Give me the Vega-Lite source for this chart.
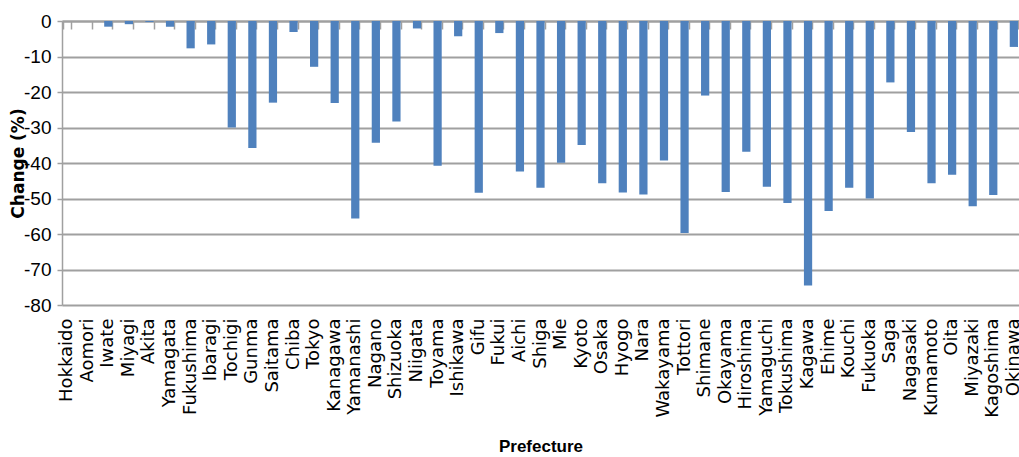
{
  "$schema": "https://vega.github.io/schema/vega-lite/v6.json",
  "width": 957,
  "height": 284,
  "autosize": {"type": "none"},
  "padding": {"left": 62, "top": 21, "right": 0, "bottom": 152},
  "background": "white",
  "config": {"view": {"stroke": null}},
  "data": {"values": [
    {"Prefecture": "Hokkaido", "Change": 0},
    {"Prefecture": "Aomori", "Change": 0},
    {"Prefecture": "Iwate", "Change": -1.6},
    {"Prefecture": "Miyagi", "Change": -0.9},
    {"Prefecture": "Akita", "Change": -0.3},
    {"Prefecture": "Yamagata", "Change": -1.6},
    {"Prefecture": "Fukushima", "Change": -7.7},
    {"Prefecture": "Ibaragi", "Change": -6.6},
    {"Prefecture": "Tochigi", "Change": -30.0},
    {"Prefecture": "Gunma", "Change": -35.8},
    {"Prefecture": "Saitama", "Change": -23.0},
    {"Prefecture": "Chiba", "Change": -3.1},
    {"Prefecture": "Tokyo", "Change": -12.9},
    {"Prefecture": "Kanagawa", "Change": -23.1},
    {"Prefecture": "Yamanashi", "Change": -55.6},
    {"Prefecture": "Nagano", "Change": -34.3},
    {"Prefecture": "Shizuoka", "Change": -28.3},
    {"Prefecture": "Niigata", "Change": -2.1},
    {"Prefecture": "Toyama", "Change": -40.8},
    {"Prefecture": "Ishikawa", "Change": -4.3},
    {"Prefecture": "Gifu", "Change": -48.4},
    {"Prefecture": "Fukui", "Change": -3.4},
    {"Prefecture": "Aichi", "Change": -42.4},
    {"Prefecture": "Shiga", "Change": -47.0},
    {"Prefecture": "Mie", "Change": -39.9},
    {"Prefecture": "Kyoto", "Change": -34.9},
    {"Prefecture": "Osaka", "Change": -45.7},
    {"Prefecture": "Hyogo", "Change": -48.3},
    {"Prefecture": "Nara", "Change": -48.9},
    {"Prefecture": "Wakayama", "Change": -39.3},
    {"Prefecture": "Tottori", "Change": -59.7},
    {"Prefecture": "Shimane", "Change": -21.0},
    {"Prefecture": "Okayama", "Change": -48.2},
    {"Prefecture": "Hiroshima", "Change": -36.8},
    {"Prefecture": "Yamaguchi", "Change": -46.7},
    {"Prefecture": "Tokushima", "Change": -51.3},
    {"Prefecture": "Kagawa", "Change": -74.5},
    {"Prefecture": "Ehime", "Change": -53.5},
    {"Prefecture": "Kouchi", "Change": -47.0},
    {"Prefecture": "Fukuoka", "Change": -50.0},
    {"Prefecture": "Saga", "Change": -17.3},
    {"Prefecture": "Nagasaki", "Change": -31.3},
    {"Prefecture": "Kumamoto", "Change": -45.7},
    {"Prefecture": "Oita", "Change": -43.3},
    {"Prefecture": "Miyazaki", "Change": -52.2},
    {"Prefecture": "Kagoshima", "Change": -49.0},
    {"Prefecture": "Okinawa", "Change": -7.3}
  ]},
  "encoding": {
    "y": {
      "field": "Change", "type": "quantitative",
      "scale": {"domain": [-80, 0], "nice": false, "zero": false},
      "axis": {
        "values": [-80, -70, -60, -50, -40, -30, -20, -10, 0],
        "labelExpr": "'' + datum.value",
        "labelOverlap": false,
        "grid": true, "gridColor": "#a0a0a0", "gridWidth": 2,
        "domain": true, "domainColor": "#a0a0a0", "domainWidth": 1.5,
        "ticks": true, "tickColor": "#a0a0a0", "tickSize": 5, "tickWidth": 1.5,
        "labelFont": "Liberation Sans Narrow, Liberation Sans, sans-serif", "labelFontSize": 19,
        "labelColor": "#000000", "labelPadding": 6,
        "title": "Change (%)", "titleFont": "DejaVu Sans", "titleFontSize": 17,
        "titleFontWeight": "bold", "titleColor": "#000000",
        "titleX": -44, "titleY": 142, "titleBaseline": "middle", "titleAngle": -90
      }
    }
  },
  "layer": [
    {
      "mark": {"type": "bar", "color": "#4F81BD"},
      "encoding": {
        "x": {
          "field": "Prefecture", "type": "nominal", "sort": null,
          "scale": {"paddingInner": 0.6, "paddingOuter": 0.05},
          "axis": {
            "orient": "bottom", "labelAngle": -90, "labelAlign": "right", "labelBaseline": "middle",
            "labelFont": "DejaVu Sans", "labelFontSize": 18, "labelColor": "#000000",
            "labelPadding": 13, "labelOverlap": false, "domain": false, "ticks": false, "grid": false,
            "title": "Prefecture", "titleFont": "Liberation Sans Narrow, Liberation Sans, sans-serif",
            "titleFontSize": 17, "titleFontWeight": "bold", "titleColor": "#000000",
            "titleY": 146, "titleBaseline": "alphabetic"
          }
        }
      }
    },
    {
      "mark": {"type": "bar", "opacity": 0},
      "encoding": {
        "x": {
          "field": "Prefecture", "type": "nominal", "sort": null,
          "axis": {
            "orient": "top", "labels": false, "title": null, "grid": false,
            "domain": true, "domainColor": "#a0a0a0", "domainWidth": 2,
            "ticks": true, "tickBand": "extent", "tickSize": -8, "tickColor": "#a0a0a0", "tickWidth": 1.5
          }
        }
      }
    }
  ],
  "resolve": {"axis": {"x": "independent"}}
}
